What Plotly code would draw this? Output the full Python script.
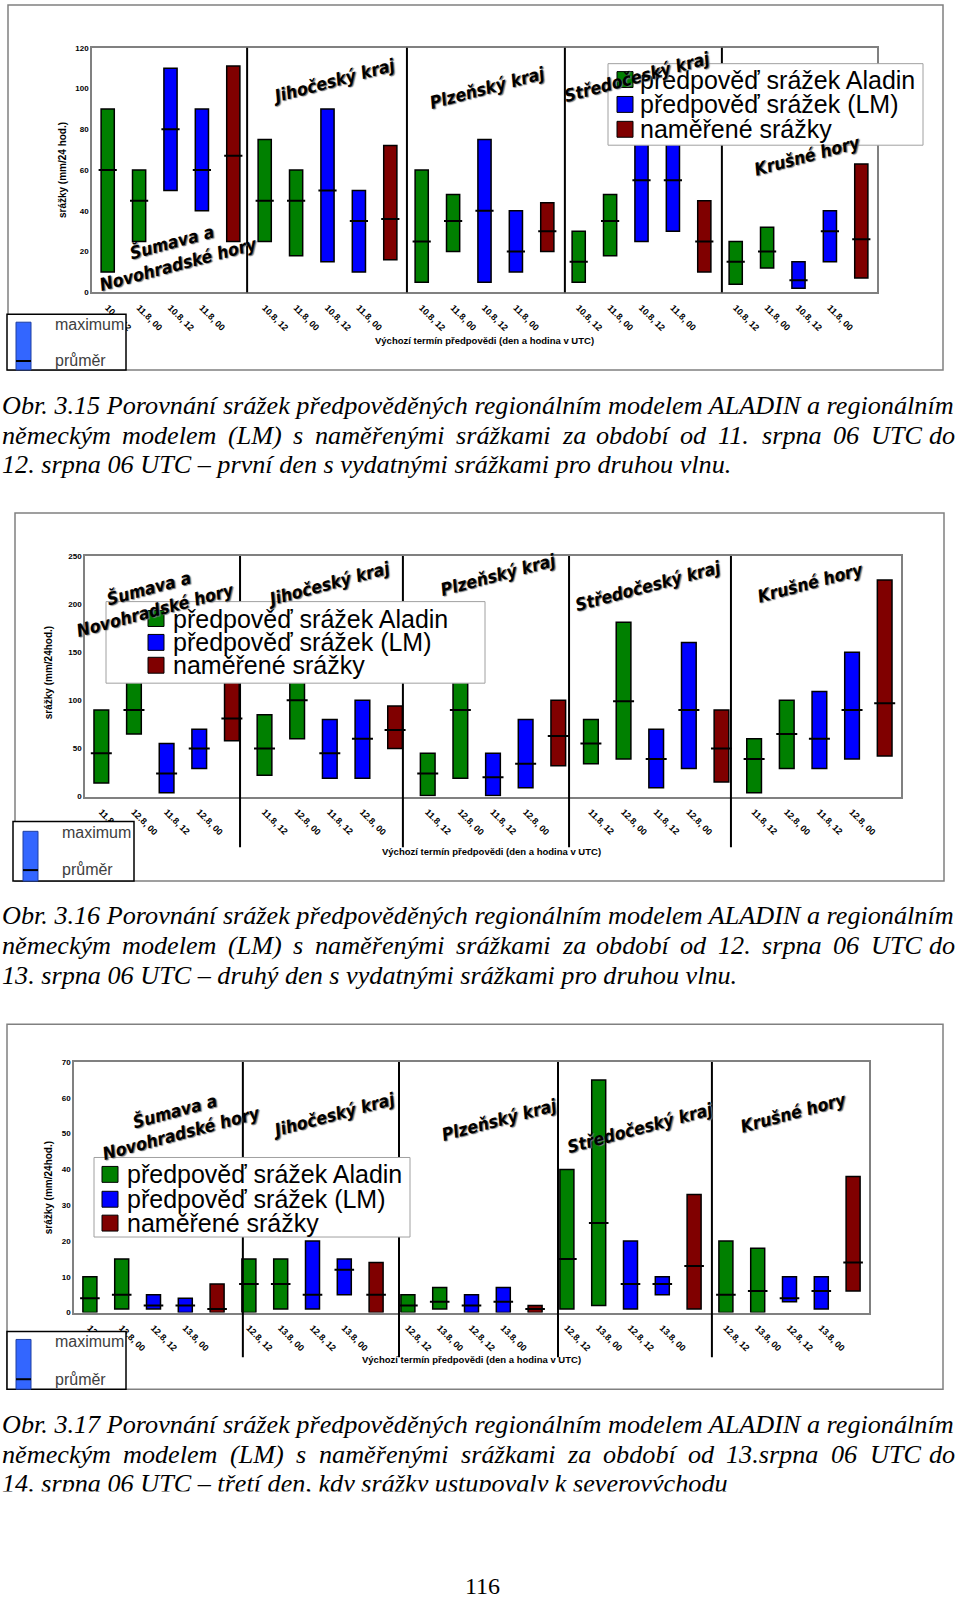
import unicodedata
import plotly.graph_objects as go

W, H = 960, 1600

# ---------------- data ----------------
series_names = ["předpověď srážek Aladin", "předpověď srážek (LM)", "naměřené srážky"]
series_colors = ["#008000", "#0000FF", "#800000"]
# which series each of the 5 bars in a region belongs to
slot_series = [0, 0, 1, 1, 2]
regions = ["Šumava a<br>Novohradské hory", "Jihočeský kraj", "Plzeňský kraj",
           "Středočeský kraj", "Krušné hory"]

c1_ticks = ["10.8, 12", "11.8, 00", "10.8, 12", "11.8, 00", ""] * 5
c1_max = [90, 60, 110, 90, 111, 75, 60, 90, 50, 72, 60, 48, 75, 40, 44,
          30, 48, 85, 80, 45, 25, 32, 15, 40, 63]
c1_min = [10, 25, 50, 40, 25, 25, 18, 15, 10, 16, 5, 20, 5, 10, 20,
          5, 18, 25, 30, 10, 4, 12, 2, 15, 7]
c1_mean = [60, 45, 80, 60, 67, 45, 45, 50, 35, 36, 25, 35, 40, 20, 30,
           15, 35, 55, 55, 25, 15, 20, 6, 30, 26]

c2_ticks = ["11.8, 12", "12.8, 00", "11.8, 12", "12.8, 00", ""] * 5
c2_max = [90, 130, 55, 70, 125, 85, 140, 80, 100, 94, 45, 150, 45, 80, 100,
          80, 181, 70, 160, 90, 60, 100, 109, 150, 225]
c2_min = [14, 65, 4, 29, 58, 22, 60, 19, 19, 50, 1, 19, 1, 9, 32,
          34, 39, 9, 29, 15, 4, 29, 29, 39, 42]
c2_mean = [45, 90, 24, 50, 81, 50, 100, 45, 60, 69, 24, 90, 20, 34, 63,
           55, 99, 39, 90, 50, 39, 65, 60, 90, 97]

c3_ticks = ["12.8, 12", "13.8, 00", "12.8, 12", "13.8, 00", ""] * 5
c3_max = [10, 15, 5, 4, 8, 15, 15, 20, 15, 14, 5, 7, 5, 7, 2,
          40, 65, 20, 10, 33, 20, 18, 10, 10, 38]
c3_min = [0, 1, 1, 0, 0, 0, 1, 1, 5, 0, 0, 1, 0, 0, 0,
          1, 2, 1, 5, 1, 0, 0, 3, 1, 6]
c3_mean = [4, 5, 2, 2, 1, 8, 8, 5, 12, 5, 2, 3, 2, 3, 1,
           15, 25, 8, 8, 13, 5, 6, 4, 6, 14]

captions = [
    ["Obr. 3.15 Porovnání srážek předpověděných regionálním modelem ALADIN a regionálním",
     "německým modelem (LM) s naměřenými srážkami za období od 11. srpna 06 UTC do",
     "12. srpna 06 UTC – první den s vydatnými srážkami pro druhou vlnu."],
    ["Obr. 3.16 Porovnání srážek předpověděných regionálním modelem ALADIN a regionálním",
     "německým modelem (LM) s naměřenými srážkami za období od 12. srpna 06 UTC do",
     "13. srpna 06 UTC – druhý den s vydatnými srážkami pro druhou vlnu."],
    ["Obr. 3.17 Porovnání srážek předpověděných regionálním modelem ALADIN a regionálním",
     "německým modelem (LM) s naměřenými srážkami za období od 13.srpna 06 UTC do",
     "14. srpna 06 UTC – třetí den, kdy srážky ustupovaly k severovýchodu"],
]
page_number = "116"
x_title = "Výchozí termín předpovědi (den a hodina v UTC)"

# ---------------- layout geometry (pixels) ----------------
charts = [
    dict(mx=c1_max, mn=c1_min, mean=c1_mean, ticks=c1_ticks, ymax=120, dtick=20,
         ytitle="srážky (mm/24 hod.)", plot=(92, 44, 877, 290), barw=0.42, msize=13,
         seps=[4.44, 9.53, 14.56, 19.56], sep_bottom=290, frame=(8, 1, 943, 368),
         leg=(608, 60, 923, 142), leg_sq=617, leg_txt=638, leg_rows=[76, 101, 126],
         ytitle_pos=(62, 167), xtitle_pos=(484, 338),
         box=(7, 312, 126, 368), blue=(16, 320, 31, 368), bline=359, btxt=(53, 322, 359),
         reg=[(175, 250), (333, 77), (487, 84), (637, 73), (807, 153)],
         caps=[404, 434, 463]),
    dict(mx=c2_max, mn=c2_min, mean=c2_mean, ticks=c2_ticks, ymax=250, dtick=50,
         ytitle="srážky (mm/24hod.)", plot=(85, 555, 901, 797), barw=0.45, msize=15,
         seps=[4.25, 9.24, 14.33, 19.29], sep_bottom=848, frame=(15, 512, 944, 882),
         leg=(106, 601, 485, 683), leg_sq=148, leg_txt=171, leg_rows=[618, 642, 665],
         ytitle_pos=(48, 673), xtitle_pos=(492, 852),
         box=(13, 822, 134, 882), blue=(23, 832, 38, 882), bline=871, btxt=(60, 833, 870),
         reg=[(152, 598), (328, 583), (498, 574), (648, 585), (810, 582)],
         caps=[917, 947, 977]),
    dict(mx=c3_max, mn=c3_min, mean=c3_mean, ticks=c3_ticks, ymax=70, dtick=10,
         ytitle="srážky (mm/24hod.)", plot=(74, 1064, 869, 1316), barw=0.44, msize=14,
         seps=[4.81, 9.72, 14.72, 19.56], sep_bottom=1361, frame=(7, 1026, 943, 1393),
         leg=(94, 1160, 410, 1240), leg_sq=102, leg_txt=125, leg_rows=[1177, 1202, 1226],
         ytitle_pos=(48, 1191), xtitle_pos=(471, 1363),
         box=(7, 1335, 126, 1393), blue=(16, 1343, 31, 1393), bline=1383, btxt=(53, 1345, 1383),
         reg=[(178, 1124), (333, 1117), (499, 1122), (640, 1130), (793, 1115)],
         caps=[1429, 1459, 1488]),
]

# approximate advance widths (1/1000 em) of a Times-compatible italic face,
# used only to justify the second caption line across the page width
TI_W = {" ": 250, "(": 333, ")": 333, ",": 250, ".": 250, "–": 500, "-": 333,
        "A": 611, "D": 722, "I": 333, "L": 556, "M": 833, "N": 667, "O": 722,
        "P": 611, "C": 667, "T": 556, "U": 722,
        "a": 500, "b": 500, "c": 444, "d": 500, "e": 444, "f": 278, "g": 500,
        "h": 500, "i": 278, "j": 278, "k": 444, "l": 278, "m": 722, "n": 500,
        "o": 500, "p": 500, "r": 389, "s": 389, "t": 278, "u": 500, "v": 444,
        "w": 667, "y": 444, "z": 389}


def word_width(word, size):
    tot = 0
    for ch in word:
        base = unicodedata.normalize("NFD", ch)[0]
        tot += TI_W.get(base, 500)
    return tot / 1000.0 * size


def px(x):
    return x / W


def py(y):
    return 1 - y / H


fig = go.Figure()
shapes = []
annotations = []
SANS = "Liberation Sans, Arial, sans-serif"
SERIF = "Liberation Serif, Times New Roman, serif"
CAP_SIZE = 26.2
REGION_FONT = dict(family="Liberation Sans Narrow, DejaVu Sans Condensed, Liberation Sans",
                   size=17.5, color="black", weight="bold", style="italic",
                   shadow="1px 1px 1px #777777")

for ci, ch in enumerate(charts):
    n = ci + 1
    xa = "x" if n == 1 else f"x{n}"
    ya = "y" if n == 1 else f"y{n}"
    xs = list(range(len(ch["mx"])))
    # bars per series
    for s in range(3):
        idx = [i for i in xs if slot_series[i % 5] == s]
        fig.add_trace(go.Bar(
            x=idx, y=[ch["mx"][i] - ch["mn"][i] for i in idx],
            base=[ch["mn"][i] for i in idx], width=ch["barw"],
            marker=dict(color=series_colors[s], line=dict(color="black", width=1.5)),
            name=series_names[s], showlegend=False, xaxis=xa, yaxis=ya))
    # mean markers
    fig.add_trace(go.Scatter(
        x=xs, y=ch["mean"], mode="markers", name="průměr", showlegend=False,
        marker=dict(symbol="line-ew", size=ch["msize"], color="black",
                    line=dict(color="black", width=2)),
        xaxis=xa, yaxis=ya))

    x0, y0, x1, y1 = ch["plot"]
    tv = [i for i in xs if ch["ticks"][i]]
    tt = [ch["ticks"][i] for i in tv]
    xkey = "xaxis" if n == 1 else f"xaxis{n}"
    ykey = "yaxis" if n == 1 else f"yaxis{n}"
    fig.update_layout(**{
        xkey: dict(domain=[px(x0), px(x1)], anchor=ya, range=[-0.5, 24.5],
                   tickvals=tv, ticktext=tt, tickangle=45, ticks="",
                   ticklabelstandoff=5,
                   tickfont=dict(family=SANS, size=9, color="black", weight="bold"),
                   showgrid=False, zeroline=False, showline=True, mirror=True,
                   linecolor="#808080", linewidth=1.5, fixedrange=True),
        ykey: dict(domain=[py(y1), py(y0)], anchor=xa, range=[0, ch["ymax"]],
                   dtick=ch["dtick"], tick0=0, ticks="",
                   tickfont=dict(family=SANS, size=8, color="black", weight="bold"),
                   showgrid=False, zeroline=False, showline=True, mirror=True,
                   linecolor="#808080", linewidth=1.5, fixedrange=True),
    })

    # outer frame
    fx0, fy0, fx1, fy1 = ch["frame"]
    shapes.append(dict(type="rect", xref="paper", yref="paper", x0=px(fx0), x1=px(fx1),
                       y0=py(fy1), y1=py(fy0), line=dict(color="#808080", width=1.5),
                       layer="below"))
    # region separators
    for sx in ch["seps"]:
        shapes.append(dict(type="line", xref=xa, yref="paper", x0=sx, x1=sx,
                           y0=py(ch["sep_bottom"]), y1=py(y0),
                           line=dict(color="black", width=2), layer="above"))
    # series legend (box + squares + texts)
    lx0, ly0, lx1, ly1 = ch["leg"]
    shapes.append(dict(type="rect", xref="paper", yref="paper", x0=px(lx0), x1=px(lx1),
                       y0=py(ly1), y1=py(ly0), fillcolor="white",
                       line=dict(color="#A0A0A0", width=1), layer="above"))
    for s, ry in enumerate(ch["leg_rows"]):
        shapes.append(dict(type="rect", xref="paper", yref="paper",
                           x0=px(ch["leg_sq"]), x1=px(ch["leg_sq"] + 16),
                           y0=py(ry + 8), y1=py(ry - 8), fillcolor=series_colors[s],
                           line=dict(color="black", width=1), layer="above"))
        annotations.append(dict(xref="paper", yref="paper", x=px(ch["leg_txt"]), y=py(ry),
                                text=series_names[s], showarrow=False, xanchor="left",
                                yanchor="middle",
                                font=dict(family=SANS, size=25, color="black")))
    # maximum / průměr key box
    bx0, by0, bx1, by1 = ch["box"]
    shapes.append(dict(type="rect", xref="paper", yref="paper", x0=px(bx0), x1=px(bx1),
                       y0=py(by1), y1=py(by0), fillcolor="white",
                       line=dict(color="black", width=1.5), layer="above"))
    kx0, ky0, kx1, ky1 = ch["blue"]
    shapes.append(dict(type="rect", xref="paper", yref="paper", x0=px(kx0), x1=px(kx1),
                       y0=py(ky1), y1=py(ky0), fillcolor="#3366FF",
                       line=dict(color="#1F3FA0", width=1), layer="above"))
    shapes.append(dict(type="line", xref="paper", yref="paper", x0=px(kx0), x1=px(kx1),
                       y0=py(ch["bline"]), y1=py(ch["bline"]),
                       line=dict(color="black", width=2), layer="above"))
    tx, t1, t2 = ch["btxt"]
    for label, ty in (("maximum", t1), ("průměr", t2)):
        annotations.append(dict(xref="paper", yref="paper", x=px(tx), y=py(ty), text=label,
                                showarrow=False, xanchor="left", yanchor="middle",
                                font=dict(family=SANS, size=16, color="#404040")))
    # axis titles
    annotations.append(dict(xref="paper", yref="paper", x=px(ch["ytitle_pos"][0]),
                            y=py(ch["ytitle_pos"][1]), text=ch["ytitle"], textangle=-90,
                            showarrow=False, xanchor="center", yanchor="middle",
                            font=dict(family=SANS, size=10, color="black", weight="bold")))
    annotations.append(dict(xref="paper", yref="paper", x=px(ch["xtitle_pos"][0]),
                            y=py(ch["xtitle_pos"][1]), text=x_title, showarrow=False,
                            xanchor="center", yanchor="middle",
                            font=dict(family=SANS, size=9.5, color="black", weight="bold")))
    # region labels
    for r, (rx, ry) in zip(regions, ch["reg"]):
        annotations.append(dict(xref="paper", yref="paper", x=px(rx), y=py(ry), text=r,
                                textangle=-15, showarrow=False, xanchor="center",
                                yanchor="middle", align="center", font=REGION_FONT))
    # caption: second line justified across the page, others as single lines
    cap_font = dict(family=SERIF, size=CAP_SIZE, color="black", style="italic")
    for li, (line, cy) in enumerate(zip(captions[ci], ch["caps"])):
        if li == 1:
            words = line.split(" ")
            widths = [word_width(w, CAP_SIZE) for w in words]
            gap = (957 - sum(widths)) / (len(words) - 1)
            xpos = 0.0
            for wi, (wd, ww) in enumerate(zip(words, widths)):
                last = wi == len(words) - 1
                annotations.append(dict(xref="paper", yref="paper",
                                        x=px(957) if last else px(xpos), y=py(cy),
                                        text=wd, showarrow=False,
                                        xanchor="right" if last else "left",
                                        yanchor="middle", font=cap_font))
                xpos += ww + gap
        else:
            annotations.append(dict(xref="paper", yref="paper", x=0, y=py(cy), text=line,
                                    showarrow=False, xanchor="left", yanchor="middle",
                                    font=cap_font))

# the last caption line is cut off at its baseline in the reference page
annotations.append(dict(xref="paper", yref="paper", x=0, y=py(1495), text=" ",
                        showarrow=False, xanchor="left", yanchor="top", width=960,
                        height=24, bgcolor="white", borderpad=0,
                        font=dict(family=SERIF, size=10)))

annotations.append(dict(xref="paper", yref="paper", x=px(482), y=py(1591), text=page_number,
                        showarrow=False, xanchor="center", yanchor="middle",
                        font=dict(family=SERIF, size=24, color="black")))

fig.update_layout(width=W, height=H, margin=dict(l=0, r=0, t=0, b=0),
                  paper_bgcolor="white", plot_bgcolor="white", barmode="overlay",
                  shapes=shapes, annotations=annotations, showlegend=False)

fig.write_html("out.html")
